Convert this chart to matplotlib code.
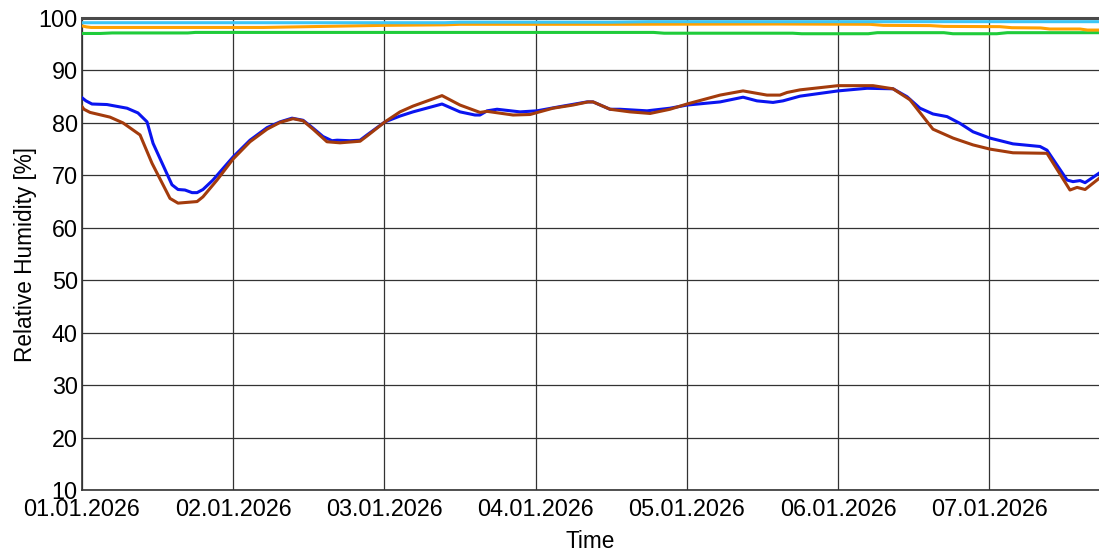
import matplotlib
matplotlib.use("Agg")
import matplotlib.pyplot as plt

plt.rcParams['font.family'] = ['Liberation Sans', 'DejaVu Sans']

# ---- data (time in days since 01.01.2026 00:00) ----
blue_t = [0, 0.026, 0.066, 0.165, 0.298, 0.370, 0.430, 0.470, 0.595, 0.635, 0.681,
          0.728, 0.761, 0.800, 0.866, 0.999, 1.111, 1.224, 1.310, 1.389, 1.462, 1.528,
          1.594, 1.653, 1.687, 1.772, 1.839, 1.885, 2.004, 2.103, 2.189, 2.381, 2.500,
          2.599, 2.632, 2.679, 2.745, 2.897, 3.009, 3.161, 3.340, 3.380, 3.492, 3.558,
          3.737, 3.889, 4.001, 4.220, 4.372, 4.464, 4.570, 4.636, 4.749, 5.000, 5.192,
          5.364, 5.456, 5.542, 5.628, 5.721, 5.807, 5.893, 6.005, 6.157, 6.336, 6.382,
          6.515, 6.554, 6.601, 6.634, 6.726]
blue_v = [84.8, 84.2, 83.6, 83.5, 82.8, 81.9, 80.2, 76.1, 68.2, 67.3, 67.2,
          66.7, 66.7, 67.3, 69.1, 73.5, 76.7, 79.1, 80.2, 80.9, 80.5, 79.0,
          77.4, 76.6, 76.7, 76.6, 76.7, 77.7, 80.2, 81.3, 82.1, 83.6, 82.1,
          81.5, 81.5, 82.3, 82.6, 82.1, 82.3, 83.1, 84.0, 84.0, 82.6, 82.6,
          82.3, 82.8, 83.4, 84.0, 84.9, 84.2, 83.9, 84.2, 85.1, 86.1, 86.6,
          86.5, 85.0, 82.8, 81.7, 81.2, 79.9, 78.3, 77.1, 76.0, 75.5, 74.8,
          69.1, 68.8, 69.0, 68.6, 70.4]

brown_t = [0, 0.013, 0.053, 0.185, 0.271, 0.384, 0.463, 0.582, 0.635, 0.761, 0.800,
           0.893, 0.999, 1.111, 1.224, 1.310, 1.396, 1.462, 1.528, 1.620, 1.706, 1.839,
           1.885, 2.004, 2.103, 2.189, 2.381, 2.500, 2.632, 2.679, 2.851, 2.963, 3.115,
           3.247, 3.347, 3.380, 3.492, 3.624, 3.757, 3.889, 4.001, 4.220, 4.372, 4.530,
           4.616, 4.663, 4.749, 5.000, 5.231, 5.364, 5.476, 5.628, 5.761, 5.893, 6.005,
           6.157, 6.382, 6.534, 6.581, 6.634, 6.726]
brown_v = [83.1, 82.6, 82.0, 81.1, 80.0, 77.7, 72.3, 65.6, 64.7, 65.0, 65.9,
           69.1, 73.1, 76.4, 78.8, 80.1, 80.8, 80.4, 78.8, 76.4, 76.2, 76.5,
           77.5, 80.2, 82.1, 83.2, 85.2, 83.4, 82.0, 82.2, 81.5, 81.6, 82.8,
           83.4, 84.0, 84.0, 82.6, 82.1, 81.8, 82.6, 83.6, 85.3, 86.1, 85.3,
           85.3, 85.8, 86.3, 87.1, 87.1, 86.5, 84.4, 78.8, 77.1, 75.8, 75.0,
           74.3, 74.2, 67.2, 67.7, 67.3, 69.4]

cyan_t = [0, 2.40, 2.50, 3.50, 3.75, 6.726]
cyan_v = [99.1, 99.1, 99.2, 99.2, 99.3, 99.3]

orange_t = [0, 0.03, 0.06, 1.20, 1.60, 2.00, 2.40, 2.50, 3.50, 4.60, 5.21, 5.30,
            5.61, 5.70, 6.07, 6.15, 6.34, 6.40, 6.60, 6.65, 6.726]
orange_v = [98.5, 98.3, 98.2, 98.2, 98.4, 98.6, 98.7, 98.8, 98.8, 98.85, 98.8, 98.6,
            98.55, 98.4, 98.35, 98.15, 98.1, 97.9, 97.9, 97.7, 97.7]

green_t = [0, 0.12, 0.20, 0.70, 0.75, 3.78, 3.85, 4.70, 4.76, 5.20, 5.26, 5.70,
           5.76, 6.05, 6.12, 6.726]
green_v = [97.05, 97.05, 97.15, 97.15, 97.25, 97.25, 97.1, 97.1, 97.0, 97.0, 97.2,
           97.2, 97.0, 97.0, 97.2, 97.2]

x_ticks = [0, 1, 2, 3, 4, 5, 6]
x_labels = ["01.01.2026", "02.01.2026", "03.01.2026", "04.01.2026",
            "05.01.2026", "06.01.2026", "07.01.2026"]
y_ticks = [10, 20, 30, 40, 50, 60, 70, 80, 90, 100]

# ---- figure ----
fig = plt.figure(figsize=(10.99, 5.51), dpi=100)
ax = fig.add_axes([82 / 1099, 1 - 490 / 551, 1 - 82 / 1099, (490 - 18) / 551])

lw = 2.2
ax.plot(green_t, green_v, color="#1fcc3a", lw=lw, zorder=3)
ax.plot(orange_t, orange_v, color="#ffa000", lw=lw, zorder=3)
ax.plot(cyan_t, cyan_v, color="#3cc6f5", lw=lw, zorder=3)
ax.plot(blue_t, blue_v, color="#0a14f0", lw=lw, zorder=4)
ax.plot(brown_t, brown_v, color="#a33b0c", lw=lw, zorder=5)

ax.set_xlim(0, 6.726)
ax.set_ylim(10, 100)
ax.set_xticks(x_ticks)
ax.set_xticklabels(x_labels)
ax.set_yticks(y_ticks)

ax.grid(True, color="#333333", lw=0.9, zorder=1)
ax.tick_params(axis="both", length=0, labelsize=16.8, colors="black")
ax.tick_params(axis="y", pad=3)
ax.tick_params(axis="x", pad=6)

ax.spines["right"].set_visible(False)
ax.spines["top"].set_color("#4a4a4a")
ax.spines["top"].set_linewidth(2.2)
ax.spines["left"].set_color("#333333")
ax.spines["bottom"].set_color("#333333")
ax.spines["left"].set_linewidth(1.2)
ax.spines["bottom"].set_linewidth(1.2)

ax.set_xlabel("Time", fontsize=16.3, labelpad=6)
ax.set_ylabel("Relative Humidity [%]", fontsize=16.3, labelpad=1)

fig.savefig("out.png", dpi=100)
